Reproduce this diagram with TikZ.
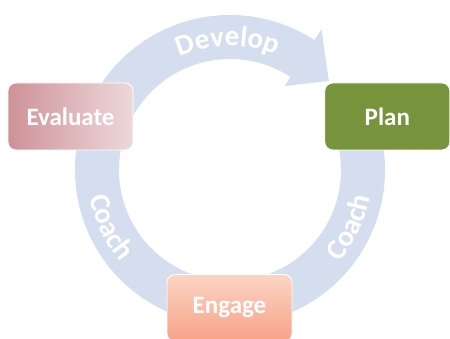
\documentclass[tikz,border=0pt]{standalone}
\usepackage{fontspec}
\setmainfont{Carlito}
\usetikzlibrary{positioning,decorations.text}

\definecolor{ringblue}{RGB}{213,222,239}
\definecolor{evalrose}{RGB}{206,146,152}
\definecolor{evalpale}{RGB}{237,216,218}
\definecolor{planolive}{RGB}{119,147,60}
\definecolor{engagepeach}{RGB}{251,212,197}
\definecolor{engagesalmon}{RGB}{247,162,134}

\newcommand{\ringfont}{\fontsize{29}{29}\selectfont\bfseries\color{white}}

\begin{document}
\begin{tikzpicture}[x=1pt, y=1pt,
    stage/.style={rectangle, rounded corners=8pt, minimum width=125pt,
        minimum height=67pt, draw=white, line width=0.8pt, inner sep=0pt,
        text=white, font=\fontsize{25}{25}\selectfont\bfseries},
    ringtext/.style={decorate, decoration={text along path, text align=center}}]
    \useasboundingbox (0,0) rectangle (450,339);

    \begin{scope}[shift={(230,169)}]
        % Ring running round from Plan, with the head pointing at Plan
        \fill[ringblue] (20:155) arc[start angle=20, end angle=-303, radius=155]
            -- (57:168) -- (42:133) -- (57:100) -- (57:111)
            arc[start angle=-303, end angle=20, radius=111] -- cycle;

        % Labels along the ring
        \path[ringtext, decoration={text={|\ringfont|Develop}}]
            (132:124) arc[start angle=132, end angle=50, radius=124];
        \path[ringtext, decoration={text={|\ringfont|Coach}}]
            (-198:143) arc[start angle=-198, end angle=-111, radius=143];
        \path[ringtext, decoration={text={|\ringfont|Coach}}]
            (-69:143) arc[start angle=-69, end angle=18, radius=143];
    \end{scope}

    % Stages of the cycle
    \node[stage, left color=evalrose, right color=evalpale] (evaluate) at (70.5,222.5) {Evaluate};
    \node[stage, fill=planolive, right=191pt of evaluate] (plan) {Plan};
    \node[stage, top color=engagepeach, bottom color=engagesalmon] (engage) at (229.5,31) {Engage};
\end{tikzpicture}
\end{document}
